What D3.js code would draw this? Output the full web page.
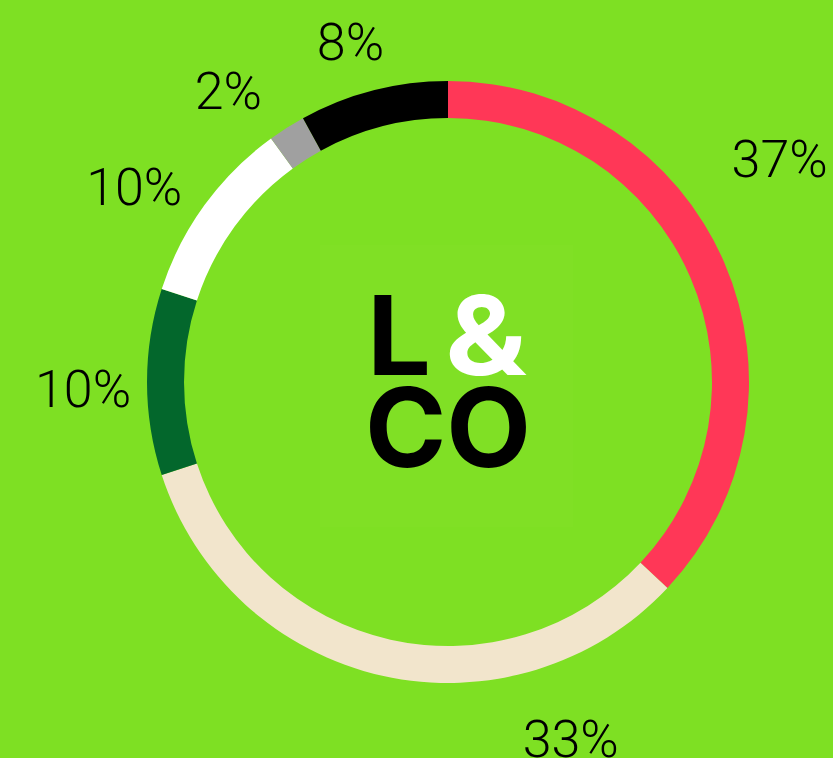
<!DOCTYPE html>
<html lang="en">
<head>
<meta charset="UTF-8">
<title>L&amp;CO donut</title>
<script src="https://d3js.org/d3.v7.min.js"></script>
<style>
    html, body { margin: 0; padding: 0; background: #7ee023; }
    svg { display: block; }
    .pct { font-family: Roboto, "Open Sans", sans-serif; font-weight: 300; font-size: 52px; fill: #000; }
    .logo { font-family: Inter, "Open Sans", sans-serif; font-weight: 700; font-size: 110px; }
</style>
</head>
<body>
<svg id="chart" width="833" height="758"></svg>
<script>
// slices, clockwise from 12 o'clock
var segments = ['red', 'beige', 'darkgreen', 'white', 'grey', 'black'];
var shares = [37, 33, 10, 10, 2, 8];
var colours = ['#ff3757', '#f2e5cc', '#03672c', '#ffffff', '#a0a0a0', '#000000'];

// where each % label sits (degrees clockwise from top, distance from centre)
var labelAngle = [56, 161, 269, 302, 323, 344];
var labelRadius = [400, 377, 365, 370, 365, 354];

var svg = d3.select('#chart'),
    cx = 448,
    cy = 382,
    outerR = 301,
    innerR = 264;

var g = svg.append('g').attr('transform', 'translate(' + cx + ',' + cy + ')');

var pie = d3.pie()
    .sort(null)
    .value(function(d) { return d; });

var arc = d3.arc()
    .innerRadius(innerR)
    .outerRadius(outerR);

var slices = pie(shares);

g.selectAll('path.slice')
    .data(slices)
    .enter()
    .append('path')
    .attr('class', 'slice')
    .attr('d', arc)
    .attr('fill', function(d, i) { return colours[i]; });

var rad = Math.PI / 180;
g.selectAll('text.pct')
    .data(slices)
    .enter()
    .append('text')
    .attr('class', 'pct')
    .attr('text-anchor', 'middle')
    .attr('x', function(d, i) { return labelRadius[i] * Math.sin(labelAngle[i] * rad); })
    .attr('y', function(d, i) { return -labelRadius[i] * Math.cos(labelAngle[i] * rad); })
    .attr('dy', '0.36em')
    .text(function(d) { return d.data + '%'; });

// logo in the middle
svg.append('rect')
    .attr('x', 320).attr('y', 245)
    .attr('width', 253).attr('height', 282)
    .attr('fill', '#80e025');

svg.append('text').attr('class', 'logo')
    .attr('x', 367).attr('y', 375)
    .attr('textLength', 64).attr('lengthAdjust', 'spacingAndGlyphs')
    .attr('fill', '#000').text('L');
svg.append('text').attr('class', 'logo')
    .attr('x', 445).attr('y', 375)
    .attr('textLength', 82).attr('lengthAdjust', 'spacingAndGlyphs')
    .attr('fill', '#fff').text('&');
svg.append('text').attr('class', 'logo')
    .attr('x', 448).attr('y', 467)
    .attr('text-anchor', 'middle')
    .attr('fill', '#000').text('CO');
</script>
</body>
</html>
